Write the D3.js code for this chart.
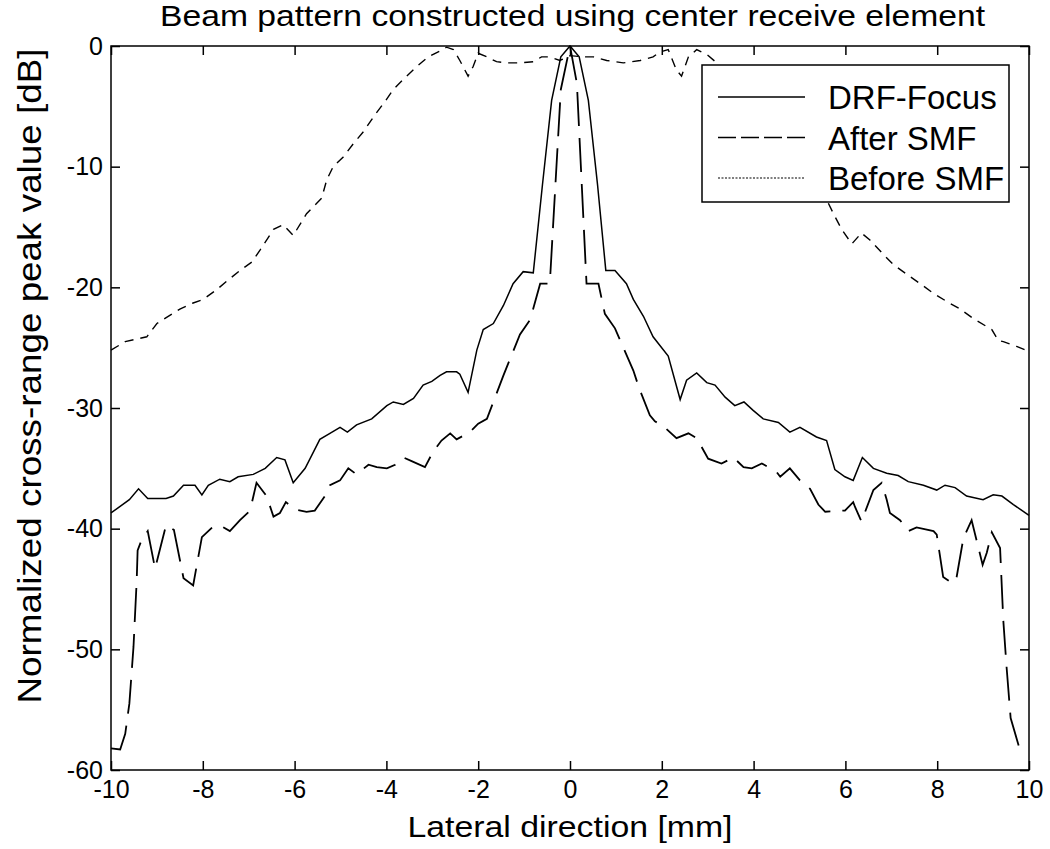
<!DOCTYPE html>
<html>
<head>
<meta charset="utf-8">
<script src="https://cdn.jsdelivr.net/npm/d3@7"></script>
<style>
  body { margin: 0; background: #fff; }
  text { font-family: "Liberation Sans", Arial, sans-serif; fill: #000; }
</style>
</head>
<body>
<svg id="chart" width="1050" height="849"></svg>
<script>
// values
const xTicks = [-10, -8, -6, -4, -2, 0, 2, 4, 6, 8, 10];
const yTicks = [0, -10, -20, -30, -40, -50, -60];
const seriesNames = ['DRF-Focus', 'After SMF', 'Before SMF'];

// DRF-Focus
const drfX = [-10, -9.6, -9.4, -9.2, -8.8, -8.64, -8.42, -8.17, -8.02, -7.88, -7.63, -7.41, -7.23, -6.9, -6.64, -6.39, -6.21, -6.03, -5.77, -5.45,
  -5.23, -5.01, -4.85, -4.65, -4.32, -3.99, -3.85, -3.63, -3.41, -3.2, -3.01, -2.83, -2.69, -2.47, -2.4, -2.22, -2.03, -1.89, -1.67, -1.45,
  -1.24, -1.02, -0.8, -0.6, -0.4, -0.2, 0, 0.2, 0.4, 0.6, 0.78, 0.98, 1.23, 1.38, 1.6, 1.81, 2.14, 2.4, 2.54, 2.76,
  2.98, 3.16, 3.38, 3.59, 3.79, 3.99, 4.21, 4.54, 4.79, 5.01, 5.37, 5.59, 5.77, 5.99, 6.17, 6.37, 6.61, 6.9, 7.15, 7.37,
  7.7, 7.99, 8.17, 8.39, 8.64, 9.0, 9.22, 9.41, 9.66, 10];
const drfY = [-38.7, -37.6, -36.7, -37.5, -37.5, -37.3, -36.4, -36.4, -37.2, -36.4, -35.9, -36.1, -35.7, -35.5, -35.0, -34.1, -34.3, -36.2, -35.0, -32.6,
  -32.1, -31.6, -32.0, -31.4, -30.9, -29.8, -29.5, -29.7, -29.2, -28.1, -27.8, -27.3, -27.0, -27.0, -27.2, -28.7, -25.2, -23.5, -23.0, -21.5,
  -19.7, -18.7, -18.8, -11.5, -4.5, -0.9, 0, -0.9, -4.5, -11.5, -18.6, -18.6, -19.7, -21.0, -22.4, -24.1, -25.7, -29.3, -27.7, -27.1,
  -27.9, -28.1, -29.1, -29.8, -29.5, -30.2, -30.9, -31.2, -32.0, -31.6, -32.4, -32.7, -35.1, -35.7, -36.0, -34.1, -35.0, -35.4, -35.6, -36.1,
  -36.4, -36.8, -36.4, -36.6, -37.3, -37.6, -37.2, -37.3, -38.0, -38.9];

// After SMF
const afterX = [-10, -9.8, -9.69, -9.6, -9.51, -9.44, -9.42, -9.33, -9.2, -9.04, -8.8, -8.63, -8.42, -8.21, -8.02, -7.77, -7.59, -7.41, -7.19, -6.97,
  -6.83, -6.61, -6.46, -6.32, -6.19, -5.99, -5.74, -5.56, -5.34, -5.23, -5.01, -4.83, -4.65, -4.39, -4.21, -3.99, -3.81, -3.63, -3.45, -3.16,
  -2.98, -2.8, -2.61, -2.47, -2.18, -2.0, -1.81, -1.6, -1.45, -1.09, -0.87, -0.65, -0.44, -0.2, 0, 0.15, 0.36, 0.62, 0.76, 0.98,
  1.38, 1.51, 1.74, 1.85, 2.03, 2.32, 2.58, 2.76, 3.01, 3.3, 3.56, 3.78, 3.96, 4.18, 4.5, 4.58, 4.79, 5.01, 5.23, 5.41,
  5.56, 5.99, 6.17, 6.21, 6.35, 6.61, 6.79, 6.9, 6.97, 7.19, 7.37, 7.55, 7.92, 7.99, 8.13, 8.32, 8.41, 8.57, 8.75, 8.99,
  9.08, 9.19, 9.37, 9.44, 9.51, 9.6, 9.8];
const afterY = [-58.2, -58.3, -57.0, -54.5, -49.8, -44.3, -41.8, -40.9, -40.2, -43.3, -39.7, -40.1, -44.1, -44.7, -40.7, -39.8, -39.8, -40.2, -39.3, -38.5,
  -36.2, -37.3, -39.0, -38.7, -37.8, -38.4, -38.6, -38.5, -37.3, -36.4, -36.0, -35.0, -35.5, -34.7, -34.9, -35.0, -34.7, -34.1, -34.4, -34.9,
  -33.6, -32.7, -32.1, -32.6, -32.0, -31.3, -30.9, -28.8, -27.3, -23.9, -22.7, -19.7, -19.7, -3.6, 0, -3.1, -19.7, -19.7, -22.2, -23.4,
  -26.9, -28.4, -30.6, -31.1, -31.5, -32.5, -32.1, -32.5, -34.2, -34.6, -34.1, -34.9, -35.0, -34.6, -35.3, -35.7, -35.0, -36.0, -36.7, -38.0,
  -38.6, -38.5, -37.8, -38.2, -39.4, -36.8, -36.2, -37.6, -38.7, -39.3, -40.2, -39.9, -40.2, -40.5, -44.0, -44.5, -44.3, -40.8, -39.3, -43.0,
  -42.0, -40.3, -41.6, -47.6, -51.4, -55.7, -58.3];

// Before SMF
const beforeX = [-10, -9.69, -9.22, -9.0, -8.71, -8.5, -8.21, -7.99, -7.7, -7.48, -7.19, -6.93, -6.75, -6.46, -6.25, -6.03, -5.74, -5.41, -5.3, -5.16,
  -4.94, -4.72, -4.5, -4.25, -4.03, -3.85, -3.56, -3.34, -3.09, -2.83, -2.69, -2.54, -2.4, -2.22, -2.11, -2.0, -1.81, -1.6, -1.38, -1.09,
  -0.8, -0.62, -0.44, -0.22, 0, 0.29, 0.51, 0.8, 1.16, 1.53, 1.81, 1.96, 2.14, 2.32, 2.43, 2.58, 2.76, 2.98, 3.2, 3.52,
  3.85, 4.14, 4.43, 4.72, 5.01, 5.27, 5.56, 5.74, 5.92, 6.14, 6.35, 6.54, 6.81, 7.04, 7.33, 7.63, 7.92, 8.22, 8.5, 8.79,
  9.19, 9.33, 9.44, 9.73, 10];
const beforeY = [-25.2, -24.5, -24.1, -23.0, -22.3, -21.8, -21.3, -21.0, -20.2, -19.5, -18.6, -17.9, -16.9, -15.2, -14.8, -15.7, -13.9, -12.6, -11.1, -10.0,
  -9.2, -8.1, -7.1, -5.7, -4.6, -3.6, -2.5, -1.7, -0.9, -0.4, -0.1, -0.3, -1.2, -2.5, -1.7, -0.6, -0.9, -1.3, -1.4, -1.4,
  -1.3, -0.9, -0.9, -1.2, -0.8, -0.9, -0.9, -1.2, -1.4, -1.2, -0.9, -0.5, -0.3, -2.0, -2.5, -0.9, -0.3, -0.7, -1.4, -2.8,
  -4.1, -5.3, -6.7, -8.1, -9.4, -10.8, -12.5, -13.9, -15.2, -16.4, -15.5, -16.1, -17.2, -18.1, -18.9, -19.7, -20.5, -21.2, -21.8, -22.6,
  -23.5, -24.4, -24.5, -24.9, -25.3];

const svg = d3.select('#chart');
const margin = { top: 46, right: 21, bottom: 79, left: 111 };
const width = +svg.attr('width');
const height = +svg.attr('height');
const innerWidth = width - margin.left - margin.right;
const innerHeight = height - margin.top - margin.bottom;

const xScale = d3.scaleLinear().domain([-10, 10]).range([0, innerWidth]);
const yScale = d3.scaleLinear().domain([-60, 0]).range([innerHeight, 0]);

const g = svg.append('g')
  .attr('transform', `translate(${margin.left}, ${margin.top})`);

const styles = [
  { dash: null, width: 1.5, legendDash: null },
  { dash: '34,12', width: 1.8, legendDash: '18,5' },
  { dash: '9,7', width: 1.4, legendDash: '2,1.5' }
];
const series = [
  d3.zip(drfX, drfY),
  d3.zip(afterX, afterY),
  d3.zip(beforeX, beforeY)
];

const line = d3.line()
  .x(d => xScale(d[0]))
  .y(d => yScale(d[1]));

g.selectAll('path.series')
  .data(series)
  .join('path')
  .attr('class', 'series')
  .attr('d', line)
  .attr('fill', 'none')
  .attr('stroke', '#000')
  .attr('stroke-width', (d, i) => styles[i].width)
  .attr('stroke-dasharray', (d, i) => styles[i].dash);

// axes: inward ticks on all four sides, plain hyphen for negatives
const tick = 9;
const fmt = d => String(d);

g.append('g')
  .attr('transform', `translate(0, ${innerHeight})`)
  .call(d3.axisBottom(xScale).tickValues(xTicks).tickSize(-tick).tickFormat(fmt))
  .call(a => a.select('.domain').remove())
  .call(a => a.selectAll('text').attr('y', 28).attr('dy', null).style('font-size', '25px'));

g.append('g')
  .call(d3.axisTop(xScale).tickValues(xTicks).tickSize(-tick))
  .call(a => a.select('.domain').remove())
  .call(a => a.selectAll('text').remove());

g.append('g')
  .call(d3.axisLeft(yScale).tickValues(yTicks).tickSize(-tick).tickPadding(8).tickFormat(fmt))
  .call(a => a.select('.domain').remove())
  .call(a => a.selectAll('text').style('font-size', '25px'));

g.append('g')
  .attr('transform', `translate(${innerWidth}, 0)`)
  .call(d3.axisRight(yScale).tickValues(yTicks).tickSize(-tick))
  .call(a => a.select('.domain').remove())
  .call(a => a.selectAll('text').remove());

g.selectAll('.tick line').attr('stroke', '#000').attr('stroke-width', 1.5);

g.append('rect')
  .attr('width', innerWidth)
  .attr('height', innerHeight)
  .attr('fill', 'none')
  .attr('stroke', '#000')
  .attr('stroke-width', 1.5);

// titles
svg.append('text')
  .attr('x', 160)
  .attr('y', 26)
  .attr('textLength', 825)
  .attr('lengthAdjust', 'spacingAndGlyphs')
  .style('font-size', '29px')
  .text('Beam pattern constructed using center receive element');

svg.append('text')
  .attr('x', margin.left + innerWidth / 2)
  .attr('y', 837)
  .attr('text-anchor', 'middle')
  .attr('textLength', 325)
  .attr('lengthAdjust', 'spacingAndGlyphs')
  .style('font-size', '30px')
  .text('Lateral direction [mm]');

svg.append('text')
  .attr('transform', 'translate(41, 376) rotate(-90)')
  .attr('text-anchor', 'middle')
  .attr('textLength', 655)
  .attr('lengthAdjust', 'spacingAndGlyphs')
  .style('font-size', '33px')
  .text('Normalized cross-range peak value [dB]');

// legend
const legend = svg.append('g').attr('transform', 'translate(702, 65)');
legend.append('rect')
  .attr('width', 307)
  .attr('height', 137)
  .attr('fill', '#fff')
  .attr('stroke', '#000')
  .attr('stroke-width', 1.5);

const rows = legend.selectAll('g.row')
  .data(seriesNames)
  .join('g')
  .attr('class', 'row')
  .attr('transform', (d, i) => `translate(0, ${32 + i * 40.5})`);

rows.append('line')
  .attr('x1', 16)
  .attr('x2', 103)
  .attr('stroke', '#000')
  .attr('stroke-width', (d, i) => i === 2 ? 1.2 : 1.6)
  .attr('stroke-dasharray', (d, i) => styles[i].legendDash);

rows.append('text')
  .attr('x', 126)
  .attr('y', 12)
  .style('font-size', '33px')
  .text(d => d);
</script>
</body>
</html>
